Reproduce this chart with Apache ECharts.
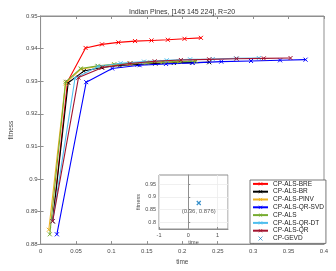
<!DOCTYPE html>
<html><head><meta charset="utf-8">
<script src="https://cdn.jsdelivr.net/npm/echarts@6/dist/echarts.min.js"></script>
<style>html,body{margin:0;padding:0;background:#fff}#c{width:336px;height:271px}</style>
</head><body><div id="c"></div>
<script>
const seriesNames = ['CP-ALS-BRE','CP-ALS-BR','CP-ALS-PINV','CP-ALS-QR-SVD','CP-ALS','CP-ALS-QR-DT','CP-ALS-QR'];
const seriesColors = ['#ff0000','#000000','#EDB120','#0000ff','#77AC30','#4DBEEE','#A2142F'];

const timeBRE = [0.017, 0.038, 0.0635, 0.0867, 0.1098, 0.1333, 0.1565, 0.1796, 0.2031, 0.2263];
const fitBRE  = [0.887, 0.9298, 0.9402, 0.9413, 0.9419, 0.9423, 0.9425, 0.9427, 0.9430, 0.9433];
const timeBR = [0.017, 0.039, 0.061, 0.086, 0.112, 0.137, 0.162, 0.188, 0.214, 0.238];
const fitBR  = [0.887, 0.9295, 0.9331, 0.9342, 0.9348, 0.9351, 0.9354, 0.9356, 0.9357, 0.9358];
const timePINV = [0.0116, 0.035, 0.057, 0.08, 0.103, 0.126, 0.149, 0.172, 0.195, 0.218];
const fitPINV  = [0.8844, 0.9293, 0.9337, 0.9345, 0.935, 0.9354, 0.9357, 0.9359, 0.936, 0.9362];
const timeQRSVD = [0.023, 0.0644, 0.101, 0.1397, 0.177, 0.2145, 0.255, 0.297, 0.338, 0.374];
const fitQRSVD  = [0.883, 0.9297, 0.9339, 0.9349, 0.9353, 0.9356, 0.936, 0.9362, 0.9364, 0.9366];
const timeALS = [0.013, 0.0354, 0.0567, 0.0807, 0.104, 0.127, 0.15, 0.173, 0.196, 0.219];
const fitALS  = [0.883, 0.9298, 0.9339, 0.9347, 0.9352, 0.9355, 0.9357, 0.9359, 0.936, 0.9361];
const timeQRDT = [0.017, 0.0486, 0.081, 0.113, 0.146, 0.178, 0.211, 0.243, 0.276, 0.308];
const fitQRDT  = [0.887, 0.9309, 0.9345, 0.9355, 0.936, 0.9364, 0.9367, 0.9368, 0.937, 0.9371];
const timeQR = [0.017, 0.0535, 0.0875, 0.126, 0.161, 0.198, 0.238, 0.2766, 0.315, 0.3528];
const fitQR  = [0.887, 0.9311, 0.9342, 0.9354, 0.9361, 0.9365, 0.9367, 0.9369, 0.937, 0.9371];

const timeGEVD = [0.36];
const fitGEVD  = [0.876];

const insetYTicks = [0.8, 0.85, 0.9, 0.95];

const allTimes = [timeBRE, timeBR, timePINV, timeQRSVD, timeALS, timeQRDT, timeQR];
const allFits  = [fitBRE, fitBR, fitPINV, fitQRSVD, fitALS, fitQRDT, fitQR];

const FONT = 'Liberation Sans, Arial, Helvetica, sans-serif';
const XPATH = 'path://M0,0L10,10M10,0L0,10';
const AX = '#8f8f8f', LBL = '#4a4a4a';

function zip(a, b) { return a.map((v, i) => [v, b[i]]); }

const series = seriesNames.map((n, i) => ({
  name: n, type: 'line', xAxisIndex: 0, yAxisIndex: 0,
  data: zip(allTimes[i], allFits[i]),
  symbol: XPATH, symbolSize: 4, showAllSymbol: true,
  lineStyle: { color: seriesColors[i], width: 1.1 },
  itemStyle: { color: seriesColors[i], borderColor: seriesColors[i], borderWidth: 1 },
  emphasis: { disabled: true }, animation: false, z: 2 + i
}));
series.push({
  name: 'CP-GEVD', type: 'scatter', xAxisIndex: 2, yAxisIndex: 2,
  data: zip(timeGEVD, fitGEVD),
  symbol: XPATH, symbolSize: 4,
  itemStyle: { color: '#0072BD', borderColor: '#0072BD', borderWidth: 1.2 },
  label: { show: true, position: 'bottom', distance: 3, fontSize: 6, color: '#333', fontFamily: FONT,
    formatter: p => '(' + p.value[0] + ', ' + p.value[1] + ')' },
  z: 20, animation: false
});

const tickIn = { show: true, inside: true, length: 3, lineStyle: { color: AX, width: 1 } };
const axLine = { show: true, lineStyle: { color: AX, width: 1 } };

const option = {
  backgroundColor: '#fff',
  animation: false,
  textStyle: { fontFamily: FONT },
  title: { text: 'Indian Pines, [145 145 224], R=20', left: 124, top: 4,
    textStyle: { fontSize: 7, fontWeight: 'normal', color: '#333', fontFamily: FONT } },
  grid: [
    { left: 30, top: 16, width: 294, height: 232, show: true, borderColor: AX, borderWidth: 1, backgroundColor: '#fff', containLabel: false },
    { left: 159, top: 175, width: 69, height: 54, show: true, borderColor: AX, borderWidth: 1, backgroundColor: '#fff', z: 10 }
  ],
  xAxis: [
    { type: 'value', gridIndex: 0, min: 0, max: 0.4, interval: 0.05, position: 'bottom',
      axisLine: axLine, axisTick: tickIn, splitLine: { show: false },
      axisLabel: { fontSize: 6, color: LBL, margin: 4, fontFamily: FONT },
      name: 'time', nameLocation: 'middle', nameGap: 14, nameTextStyle: { fontSize: 6.5, color: LBL, fontFamily: FONT } },
    { type: 'value', gridIndex: 0, min: 0, max: 0.4, interval: 0.05, position: 'top',
      axisLine: axLine, axisTick: tickIn, splitLine: { show: false }, axisLabel: { show: false } },
    { type: 'value', gridIndex: 1, min: -1, max: 1.36, interval: 1, position: 'bottom',
      axisLine: axLine, axisTick: { show: true, inside: true, length: 2, lineStyle: { color: AX } },
      splitLine: { show: true, lineStyle: { color: '#ececec', width: 0.8 } },
      axisLabel: { fontSize: 5.5, color: LBL, margin: 3, showMaxLabel: false, fontFamily: FONT },
      name: 'time', nameLocation: 'middle', nameGap: 10, nameTextStyle: { fontSize: 5.5, color: LBL, fontFamily: FONT }, z: 11 }
  ],
  yAxis: [
    { type: 'value', gridIndex: 0, min: 0.88, max: 0.95, interval: 0.01, position: 'left',
      axisLine: axLine, axisTick: tickIn, splitLine: { show: false },
      axisLabel: { fontSize: 6, color: LBL, margin: 3, fontFamily: FONT },
      name: 'fitness', nameLocation: 'middle', nameGap: 19, nameTextStyle: { fontSize: 6.5, color: LBL, fontFamily: FONT } },
    { type: 'value', gridIndex: 0, min: 0.88, max: 0.95, interval: 0.01, position: 'right',
      axisLine: axLine, axisTick: tickIn, splitLine: { show: false }, axisLabel: { show: false } },
    { type: 'value', gridIndex: 1, min: 0.775, max: 0.985, position: 'left',
      axisLine: axLine,
      axisTick: { show: true, inside: true, length: 2, lineStyle: { color: AX }, customValues: insetYTicks },
      splitLine: { show: true, lineStyle: { color: '#ececec', width: 0.8 } },
      axisLabel: { fontSize: 5.5, color: LBL, margin: 3, customValues: insetYTicks, fontFamily: FONT },
      name: 'fitness', nameLocation: 'middle', nameGap: 15, nameTextStyle: { fontSize: 5.5, color: LBL, fontFamily: FONT }, z: 11 }
  ],
  legend: {
    orient: 'vertical', left: 250, top: 180,
    padding: [0, 2, 1, 2], itemGap: 0, itemWidth: 15, itemHeight: 4,
    backgroundColor: '#fff', borderColor: '#555', borderWidth: 0.8,
    itemStyle: { borderWidth: 0.8 },
    textStyle: { fontSize: 6.5, color: '#222', lineHeight: 7.8, fontFamily: FONT },
    data: seriesNames.concat(['CP-GEVD']), selectedMode: false, z: 30
  },
  series: series
};
const chart = echarts.init(document.getElementById('c'), null, { renderer: 'canvas' });
chart.setOption(option);
</script></body></html>
